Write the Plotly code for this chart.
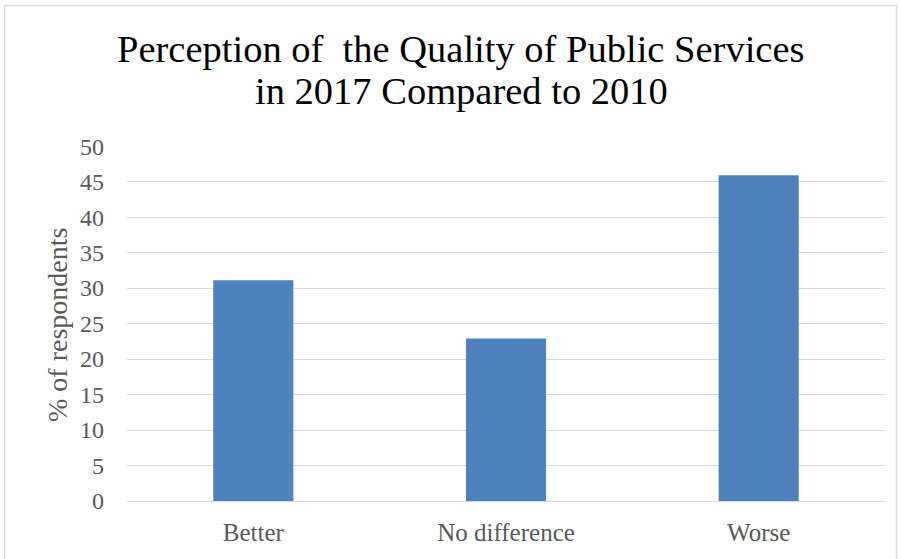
import plotly.graph_objects as go

categories = ["Better", "No difference", "Worse"]
values = [31.1, 22.9, 45.9]
y_ticks = [0, 5, 10, 15, 20, 25, 30, 35, 40, 45, 50]
title_lines = ["Perception of\u00a0 the Quality of Public Services", "in 2017 Compared to 2010"]

W, H = 901, 559
L, R, T, B = 127, 16, 146, 58
pw, ph = W - L - R, H - T - B

def px_x(x):
    return (x - L) / pw

def px_y(y):
    return (H - B - y) / ph

fig = go.Figure()
fig.add_trace(go.Bar(
    x=categories, y=values,
    marker=dict(color="#4F81BD", line=dict(width=0)),
    width=0.317,
))

font_family = "Liberation Serif, DejaVu Serif, serif"

annotations = [dict(
    text="% of respondents", textangle=-90,
    xref="paper", yref="paper",
    x=px_x(57), y=px_y(325),
    xanchor="center", yanchor="middle", showarrow=False,
    font=dict(family=font_family, size=28, color="#595959"),
)]
for line, yc in zip(title_lines, [49, 91]):
    annotations.append(dict(
        text=line, xref="paper", yref="paper",
        x=px_x(461), y=px_y(yc),
        xanchor="center", yanchor="middle", showarrow=False,
        font=dict(family=font_family, size=38.5, color="#000000"),
    ))

fig.update_layout(
    width=W, height=H,
    margin=dict(l=L, r=R, t=T, b=B),
    paper_bgcolor="white", plot_bgcolor="white",
    showlegend=False,
    font=dict(family=font_family, color="#595959"),
    xaxis=dict(
        showgrid=False, showline=False, zeroline=False,
        ticks="", tickfont=dict(size=25, color="#595959"),
        ticklabelstandoff=14,
    ),
    yaxis=dict(
        range=[0, 50.02], tickvals=y_ticks,
        showgrid=True, gridcolor="#D9D9D9", gridwidth=1,
        zeroline=True, zerolinecolor="#D9D9D9", zerolinewidth=1,
        showline=False, ticks="",
        tickfont=dict(size=24, color="#595959"),
        ticklabelstandoff=22,
    ),
    annotations=annotations,
    shapes=[dict(
        type="rect", xref="paper", yref="paper",
        x0=px_x(4.5), x1=px_x(896.5), y0=px_y(5.5), y1=px_y(600),
        line=dict(color="#D9D9D9", width=1.5), fillcolor="rgba(0,0,0,0)",
        layer="below",
    )],
)

fig.write_html("out.html")
